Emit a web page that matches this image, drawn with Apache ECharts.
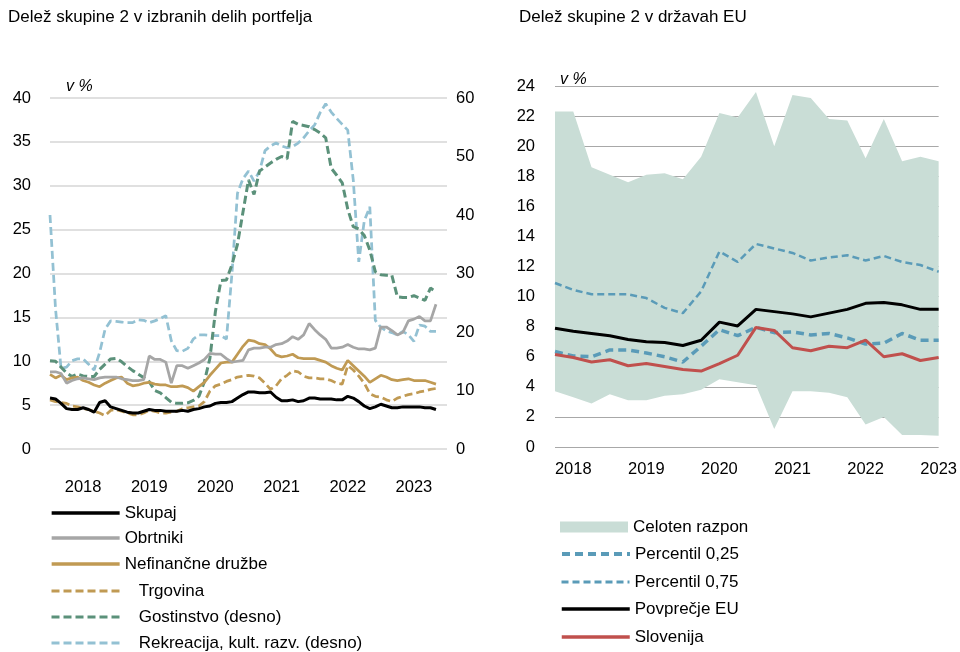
<!DOCTYPE html>
<html>
<head>
<meta charset="utf-8">
<script src="https://cdn.jsdelivr.net/npm/echarts@6/dist/echarts.min.js"></script>
<style>
  html, body { margin: 0; padding: 0; background: #fff; }
  #chart { width: 960px; height: 652px; }
</style>
</head>
<body>
<div id="chart"></div>
<script>
// months Jan 2018 .. Jan 2024 (data runs to Nov 2023)
var monthCats = [];
for (var y = 2018; y <= 2024; y++) {
  for (var m = 1; m <= 12; m++) monthCats.push(y + '-' + (m < 10 ? '0' + m : m));
}
monthCats = monthCats.slice(0, 73);

// quarters 2017Q4 .. 2023Q1
var quarterCats = ['2017Q4'];
for (var q = 2018; q <= 2023; q++) {
  for (var k = 1; k <= 4; k++) quarterCats.push(q + 'Q' + k);
}
quarterCats = quarterCats.slice(0, 22);

// left panel, v % (left axis)
var skupaj = [5.8,5.7,5.2,4.6,4.5,4.5,4.7,4.5,4.2,5.3, 5.5,4.8,4.6,4.4,4.2,4.1,4.1,4.3,4.5,4.4,
  4.4,4.3,4.3,4.3,4.4,4.3,4.5,4.6,4.8,4.9, 5.2,5.3,5.3,5.4,5.8,6.2,6.5,6.5,6.4,6.4,
  6.5,5.9,5.5,5.5,5.6,5.4,5.5,5.8,5.8,5.7, 5.7,5.7,5.6,5.6,6.0,5.8,5.4,4.9,4.6,4.8,
  5.1,4.9,4.7,4.7,4.8,4.8,4.8,4.8,4.7,4.7,4.5];
var obrtniki = [8.8,8.8,8.6,7.5,7.8,8.0,8.1,8.0,7.9,8.1, 8.2,8.2,8.2,8.0,7.9,7.8,7.8,7.9,10.6,10.2,
  10.2,9.9,7.5,9.5,9.5,9.2,9.5,9.8,10.2,10.9, 10.8,10.8,10.3,9.9,10.0,10.1,11.3,11.5,11.5,11.6,
  11.6,11.9,12.0,12.3,12.8,12.5,13.0,14.3,13.6,13.0, 12.5,11.5,11.5,11.6,11.9,11.6,11.4,11.4,11.3,11.5,
  13.9,13.9,13.5,13.0,13.3,14.6,14.8,15.1,14.6,14.6,16.5];
var nefinancne = [8.5,8.1,8.4,7.9,8.1,8.2,7.8,7.6,7.3,7.1, 7.5,7.8,8.1,8.2,7.5,7.2,7.3,7.5,7.6,7.4,
  7.3,7.3,7.1,7.1,7.2,7.0,6.6,7.1,7.6,8.4, 9.1,9.8,9.9,9.9,10.8,11.7,12.4,12.3,12.0,11.9,
  11.4,10.7,10.5,10.6,10.8,10.4,10.3,10.3,10.3,10.1, 9.9,9.5,9.2,9.0,10.1,9.5,8.9,8.3,7.6,8.0,
  8.4,8.2,7.9,7.8,7.9,8.0,7.8,7.8,7.8,7.6,7.4];
var trgovina = [5.6,5.4,5.3,5.2,4.9,4.8,4.6,4.5,4.3,4.1, 3.8,4.4,4.5,4.3,4.1,3.9,3.9,4.1,4.4,4.3,
  4.1,4.1,4.2,4.3,4.6,4.7,4.8,4.9,5.4,6.6, 7.2,7.4,7.7,7.9,8.2,8.3,8.4,8.3,8.1,7.5,
  6.8,7.2,8.0,8.4,8.9,8.8,8.3,8.1,8.1,8.0, 8.0,7.8,7.5,7.4,9.5,9.0,8.3,7.5,6.3,6.0,
  5.9,5.6,5.4,5.8,6.0,6.2,6.3,6.5,6.6,6.8,6.9];
// left panel, right axis
var gostinstvo = [15.1,15.0,14.0,13.0,12.4,12.8,12.5,12.4,12.4,13.6, 14.5,15.4,15.5,14.9,14.1,13.4,12.8,12.2,11.5,10.0,
  9.6,8.8,8.0,7.8,7.8,7.9,8.3,9.0,11.5,15.5, 23.5,28.8,28.9,31.5,35.0,40.5,46.0,43.5,47.5,48.2,
  48.9,49.5,50.0,49.6,56.0,55.5,55.3,55.1,54.6,54.0, 53.2,48.0,46.8,45.5,41.0,38.0,37.6,36.5,34.0,30.3,
  29.8,29.7,29.7,26.0,25.9,25.9,26.2,25.8,25.4,27.5,26.9];
var rekreacija = [40.0,24.0,13.8,14.0,15.1,15.4,15.4,14.5,13.5,16.5, 20.5,21.9,21.8,21.7,21.6,21.6,22.1,22.0,21.6,21.9,
  22.3,22.8,18.5,16.8,16.7,17.2,18.8,19.5,19.5,19.4, 19.4,19.4,18.8,30.0,43.7,46.2,47.5,45.8,47.5,51.0,
  51.8,52.3,51.8,51.5,51.7,52.3,53.2,54.4,55.4,57.5, 59.0,57.6,56.5,55.5,54.5,46.0,32.0,39.0,41.4,22.0,
  20.8,20.2,19.9,19.5,20.1,19.5,18.4,21.2,21.0,20.1,20.1];

// right panel, quarterly
var rangeMax = [22.3,22.3,18.6,18.1,17.6,18.1,18.2,17.8,19.3,22.2,21.9,23.6,20.0,23.4,23.2,21.8,21.7,19.2,21.8,19.0,19.3,19.0];
var rangeMin = [3.7,3.3,2.9,3.5,3.1,3.1,3.4,3.5,3.8,4.5,4.3,4.1,1.2,3.7,3.7,3.6,3.3,1.5,2.0,0.8,0.8,0.75];
var p25 = [6.35,6.05,6.0,6.45,6.45,6.25,6.0,5.65,6.7,7.8,7.4,7.95,7.6,7.65,7.45,7.55,7.25,6.85,6.9,7.55,7.1,7.1];
var p75 = [10.9,10.45,10.15,10.15,10.15,9.9,9.25,8.9,10.35,13.0,12.3,13.5,13.2,12.9,12.4,12.6,12.75,12.4,12.7,12.3,12.1,11.65];
var euAvg = [7.9,7.7,7.55,7.4,7.15,7.0,6.95,6.75,7.1,8.3,8.05,9.15,9.0,8.85,8.65,8.9,9.15,9.55,9.6,9.45,9.15,9.15];
var slovenija = [6.15,5.95,5.65,5.8,5.4,5.55,5.35,5.15,5.05,5.55,6.1,7.95,7.75,6.6,6.4,6.7,6.6,7.1,6.0,6.2,5.75,5.95];

var rangeSpan = rangeMax.map(function (v, i) { return +(v - rangeMin[i]).toFixed(2); });

var FONT = '"Liberation Sans", Arial, sans-serif';

var leftLegend = ['Skupaj', 'Obrtniki', 'Nefinančne družbe', 'Trgovina', 'Gostinstvo (desno)', 'Rekreacija, kult. razv. (desno)'];
var leftLegendY = [513, 538, 564, 591, 617, 643];
var leftLegendW = [3.3, 3.3, 3.3, 3, 3, 3];
var indented = ['Trgovina', 'Gostinstvo (desno)', 'Rekreacija, kult. razv. (desno)'];
var rightLegend = ['Celoten razpon', 'Percentil 0,25', 'Percentil 0,75', 'Povprečje EU', 'Slovenija'];
var rightLegendY = [527, 554, 582, 609, 637];
var rightLegendW = [0, 4, 3, 3.5, 3.5];

var chart = echarts.init(document.getElementById('chart'));

function lineSeries(name, data, color, width, dash, xi, yi) {
  return {
    name: name,
    type: 'line',
    xAxisIndex: xi,
    yAxisIndex: yi,
    data: data,
    symbol: 'none',
    color: color,
    lineStyle: { color: color, width: width, type: dash || 'solid' },
    silent: true
  };
}

function legendItem(name, x, cy, gap, lw, rectIcon) {
  return {
    orient: 'vertical',
    left: x,
    top: cy - 8.5,
    padding: 0,
    itemWidth: 68,
    itemHeight: 11,
    itemTextGap: gap,
    selectedMode: false,
    itemStyle: rectIcon ? {} : { opacity: 0 },
    lineStyle: { width: lw },
    textStyle: { fontSize: 17, color: '#000', fontFamily: FONT, lineHeight: 17 },
    formatter: function (n) {
      return indented.indexOf(n) >= 0 ? '\u00a0\u00a0\u00a0' + n : n;
    },
    data: [rectIcon ? { name: name, icon: 'rect' } : name]
  };
}

var legends = [];
leftLegend.forEach(function (n, i) { legends.push(legendItem(n, 50, leftLegendY[i], 8, leftLegendW[i], false)); });
rightLegend.forEach(function (n, i) { legends.push(legendItem(n, 560, rightLegendY[i], 7, rightLegendW[i], i === 0)); });

var option = {
  animation: false,
  textStyle: { fontFamily: FONT },
  graphic: [
    { type: 'text', left: 8, top: 9, style: { text: 'Delež skupine 2 v izbranih delih portfelja', fontSize: 17, fontFamily: FONT, fill: '#000' } },
    { type: 'text', left: 519, top: 9, style: { text: 'Delež skupine 2 v državah EU', fontSize: 17, fontFamily: FONT, fill: '#000' } },
    { type: 'text', left: 66, top: 79, style: { text: 'v %', fontSize: 16, fontStyle: 'italic', fontFamily: FONT, fill: '#000' } },
    { type: 'text', left: 560, top: 72, style: { text: 'v %', fontSize: 16, fontStyle: 'italic', fontFamily: FONT, fill: '#000' } }
  ],
  grid: [
    { left: 50, right: 513, top: 98, bottom: 203 },
    { left: 555, right: 20, top: 86, bottom: 205 }
  ],
  xAxis: [{
    type: 'category',
    gridIndex: 0,
    data: monthCats,
    boundaryGap: false,
    axisLine: { show: false },
    axisTick: { show: false },
    axisLabel: {
      interval: function (i) { return i % 12 === 6; },
      formatter: function (v) { return v.slice(0, 4); },
      fontSize: 16.5, color: '#000', margin: 30, fontFamily: FONT
    }
  }, {
    type: 'category',
    gridIndex: 1,
    data: quarterCats,
    boundaryGap: false,
    axisLine: { show: false },
    axisTick: { show: false },
    axisLabel: {
      interval: function (i) { return i % 4 === 1; },
      formatter: function (v) { return v.slice(0, 4); },
      fontSize: 16.5, color: '#000', margin: 14, fontFamily: FONT
    }
  }],
  yAxis: [{
    type: 'value',
    gridIndex: 0,
    min: 0, max: 40, interval: 5,
    axisLine: { show: false },
    axisTick: { show: false },
    axisLabel: { fontSize: 16.5, color: '#000', margin: 19, fontFamily: FONT },
    splitLine: { lineStyle: { color: '#D6D6D6', width: 1.5 } }
  }, {
    type: 'value',
    gridIndex: 0,
    position: 'right',
    min: 0, max: 60, interval: 10,
    axisLine: { show: false },
    axisTick: { show: false },
    axisLabel: { fontSize: 16.5, color: '#000', margin: 9, fontFamily: FONT },
    splitLine: { show: false }
  }, {
    type: 'value',
    gridIndex: 1,
    min: 0, max: 24, interval: 2,
    axisLine: { show: false },
    axisTick: { show: false },
    axisLabel: { fontSize: 16.5, color: '#000', margin: 20, fontFamily: FONT },
    splitLine: { lineStyle: { color: '#A8A8A8', width: 1.2 } }
  }],
  legend: legends,
  series: [
    lineSeries('Rekreacija, kult. razv. (desno)', rekreacija, '#93C1D3', 2.75, [8, 4], 0, 1),
    lineSeries('Gostinstvo (desno)', gostinstvo, '#5B917A', 3, [8, 4], 0, 1),
    lineSeries('Trgovina', trgovina, '#C09A53', 2.75, [8, 4], 0, 0),
    lineSeries('Nefinančne družbe', nefinancne, '#C09A53', 2.75, null, 0, 0),
    lineSeries('Obrtniki', obrtniki, '#A6A6A6', 2.75, null, 0, 0),
    lineSeries('Skupaj', skupaj, '#000000', 3, null, 0, 0),
    {
      name: 'min',
      type: 'line',
      xAxisIndex: 1, yAxisIndex: 2,
      stack: 'range',
      data: rangeMin,
      symbol: 'none',
      lineStyle: { opacity: 0 },
      silent: true
    }, {
      name: 'Celoten razpon',
      type: 'line',
      xAxisIndex: 1, yAxisIndex: 2,
      stack: 'range',
      data: rangeSpan,
      symbol: 'none',
      color: '#C9DDD6',
      lineStyle: { opacity: 0, width: 0 },
      areaStyle: { color: '#C9DDD6', opacity: 1 },
      silent: true
    },
    lineSeries('Percentil 0,75', p75, '#5A9BB8', 2.5, [7, 4], 1, 2),
    lineSeries('Percentil 0,25', p25, '#5A9BB8', 3.5, [8, 5], 1, 2),
    lineSeries('Povprečje EU', euAvg, '#000000', 3, null, 1, 2),
    lineSeries('Slovenija', slovenija, '#C0504D', 3, null, 1, 2)
  ]
};

chart.setOption(option);
</script>
</body>
</html>
